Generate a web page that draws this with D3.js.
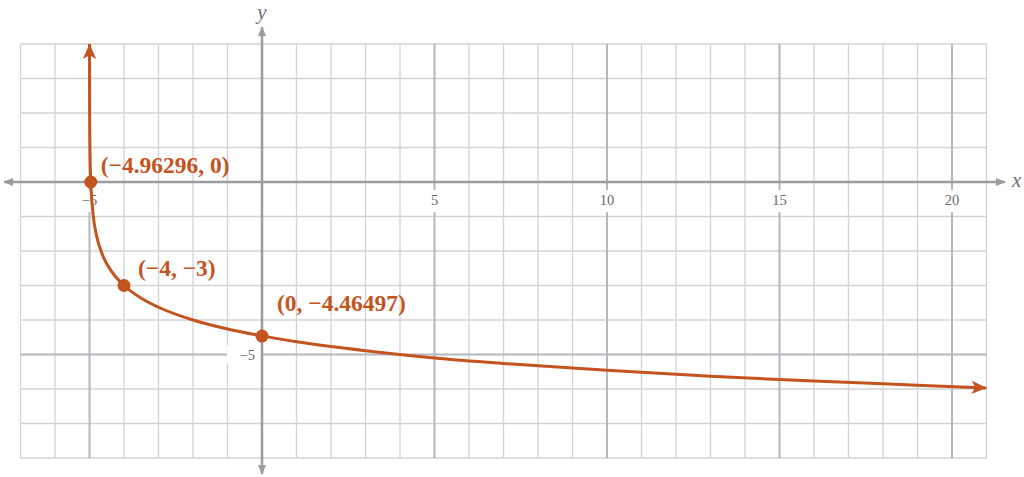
<!DOCTYPE html>
<html>
<head>
<meta charset="utf-8">
<script src="https://cdn.jsdelivr.net/npm/d3@7"></script>
<style>
  html, body { margin: 0; padding: 0; background: #fff; }
  svg { display: block; }
  .tick-label { font-family: "Liberation Serif", "DejaVu Serif", serif; font-size: 14.5px; fill: #68686c; }
  .pt-label { font-family: "Liberation Serif", "DejaVu Serif", serif; font-size: 23.5px; font-weight: bold; fill: #c4541f; }
  .axis-name { font-family: "Liberation Serif", "DejaVu Serif", serif; font-style: italic; font-size: 21px; fill: #6f6f73; }
</style>
</head>
<body>
<svg id="chart" width="1024" height="477"></svg>
<script>
// window of the plot
const xDomain = [-7, 21];
const yDomain = [-8, 4];

// curve samples
const curveX = [-4.9995, -4.999, -4.998, -4.995, -4.99, -4.98, -4.963, -4.95, -4.9, -4.8, -4.7, -4.6, -4.5, -4.25, -4, -3.5, -3, -2, -1, 0, 1, 2, 3, 5, 7, 10, 13, 16, 19, 21];
const curveY = [4, 3.29, 2.66, 1.82, 1.19, 0.56, 0, -0.27, -0.90, -1.54, -1.90, -2.17, -2.37, -2.74, -3, -3.37, -3.63, -4, -4.26, -4.46, -4.63, -4.77, -4.89, -5.10, -5.26, -5.46, -5.63, -5.77, -5.89, -5.97];

// marked points
const pointX = [-4.96296, -4, 0];
const pointY = [0, -3, -4.46497];
const pointLabels = ["(−4.96296, 0)", "(−4, −3)", "(0, −4.46497)"];

// tick labels
const xTickValues = [-5, 5, 10, 15, 20];
const yTickValues = [-5];

const labelOffsets = [[10, -9], [14, -10], [15, -25]];
const curveColor = "#c4541f";

const svg = d3.select("#chart");
const x = d3.scaleLinear().domain(xDomain).range([20.5, 986.5]);
const y = d3.scaleLinear().domain(yDomain).range([458, 44]);

const defs = svg.append("defs");
defs.append("marker")
    .attr("id", "axisArrow").attr("viewBox", "0 -5 10 10")
    .attr("refX", 9).attr("refY", 0).attr("orient", "auto-start-reverse")
    .attr("markerUnits", "userSpaceOnUse")
    .attr("markerWidth", 10).attr("markerHeight", 10)
    .append("path").attr("d", "M0,-4L10,0L0,4Z").attr("fill", "#9b9ba0");
defs.append("marker")
    .attr("id", "curveArrow").attr("viewBox", "0 -5 10 10")
    .attr("refX", 10).attr("refY", 0).attr("orient", "auto-start-reverse")
    .attr("markerUnits", "userSpaceOnUse")
    .attr("markerWidth", 15).attr("markerHeight", 15)
    .append("path").attr("d", "M0,-4.5L10,0L0,4.5L2.5,0Z").attr("fill", curveColor);

// grid
const xs = d3.range(xDomain[0], xDomain[1] + 1);
const ys = d3.range(yDomain[0], yDomain[1] + 1);
const isMajor = v => v % 5 === 0 && v !== 0;

const grid = svg.append("g");
grid.selectAll(".gx")
    .data(xs.filter(v => !isMajor(v)))
    .join("line")
    .attr("x1", d => x(d)).attr("x2", d => x(d))
    .attr("y1", y(yDomain[0])).attr("y2", y(yDomain[1]))
    .attr("stroke", "#d3d3d6").attr("stroke-width", 1.3);
grid.selectAll(".gy")
    .data(ys.filter(v => !isMajor(v)))
    .join("line")
    .attr("y1", d => y(d)).attr("y2", d => y(d))
    .attr("x1", x(xDomain[0])).attr("x2", x(xDomain[1]))
    .attr("stroke", "#d3d3d6").attr("stroke-width", 1.3);
grid.selectAll(".mx")
    .data(xs.filter(isMajor))
    .join("line")
    .attr("x1", d => x(d)).attr("x2", d => x(d))
    .attr("y1", y(yDomain[0])).attr("y2", y(yDomain[1]))
    .attr("stroke", "#b6b6bd").attr("stroke-width", 2);
grid.selectAll(".my")
    .data(ys.filter(isMajor))
    .join("line")
    .attr("y1", d => y(d)).attr("y2", d => y(d))
    .attr("x1", x(xDomain[0])).attr("x2", x(xDomain[1]))
    .attr("stroke", "#b6b6bd").attr("stroke-width", 2);

// tick labels with white gaps
const ticks = svg.append("g");
xTickValues.forEach(v => {
    const w = String(v).length * 7 + 6;
    ticks.append("rect")
        .attr("x", x(v) - w / 2).attr("y", y(0) + 8)
        .attr("width", w).attr("height", 22).attr("fill", "#fff");
    ticks.append("text").attr("class", "tick-label")
        .attr("x", x(v)).attr("y", y(0) + 23)
        .attr("text-anchor", "middle")
        .text(v < 0 ? "−" + Math.abs(v) : v);
});
yTickValues.forEach(v => {
    ticks.append("rect")
        .attr("x", x(0) - 35).attr("y", y(v) - 9)
        .attr("width", 34).attr("height", 18).attr("fill", "#fff");
    ticks.append("text").attr("class", "tick-label")
        .attr("x", x(0) - 7).attr("y", y(v) + 5)
        .attr("text-anchor", "end")
        .text(v < 0 ? "−" + Math.abs(v) : v);
});

// axes
svg.append("line")
    .attr("x1", 4).attr("x2", 1005)
    .attr("y1", y(0)).attr("y2", y(0))
    .attr("stroke", "#9b9ba0").attr("stroke-width", 2.5)
    .attr("marker-start", "url(#axisArrow)").attr("marker-end", "url(#axisArrow)");
svg.append("line")
    .attr("x1", x(0)).attr("x2", x(0))
    .attr("y1", 474).attr("y2", 27)
    .attr("stroke", "#9b9ba0").attr("stroke-width", 2.5)
    .attr("marker-start", "url(#axisArrow)").attr("marker-end", "url(#axisArrow)");
svg.append("text").attr("class", "axis-name")
    .attr("x", x(0)).attr("y", 19).attr("text-anchor", "middle").text("y");
svg.append("text").attr("class", "axis-name")
    .attr("x", 1012).attr("y", 187).text("x");

// curve
const line = d3.line()
    .x(d => x(d[0])).y(d => y(d[1]))
    .curve(d3.curveMonotoneX);
svg.append("path")
    .datum(d3.zip(curveX, curveY))
    .attr("d", line)
    .attr("fill", "none").attr("stroke", curveColor).attr("stroke-width", 3)
    .attr("marker-start", "url(#curveArrow)").attr("marker-end", "url(#curveArrow)");

// points and labels
const pts = d3.zip(pointX, pointY, pointLabels, labelOffsets);
svg.selectAll(".dot")
    .data(pts)
    .join("circle")
    .attr("cx", d => x(d[0])).attr("cy", d => y(d[1]))
    .attr("r", 6.5).attr("fill", curveColor);
svg.selectAll(".pt-label")
    .data(pts)
    .join("text")
    .attr("class", "pt-label")
    .attr("x", d => x(d[0]) + d[3][0]).attr("y", d => y(d[1]) + d[3][1])
    .text(d => d[2]);
</script>
</body>
</html>
